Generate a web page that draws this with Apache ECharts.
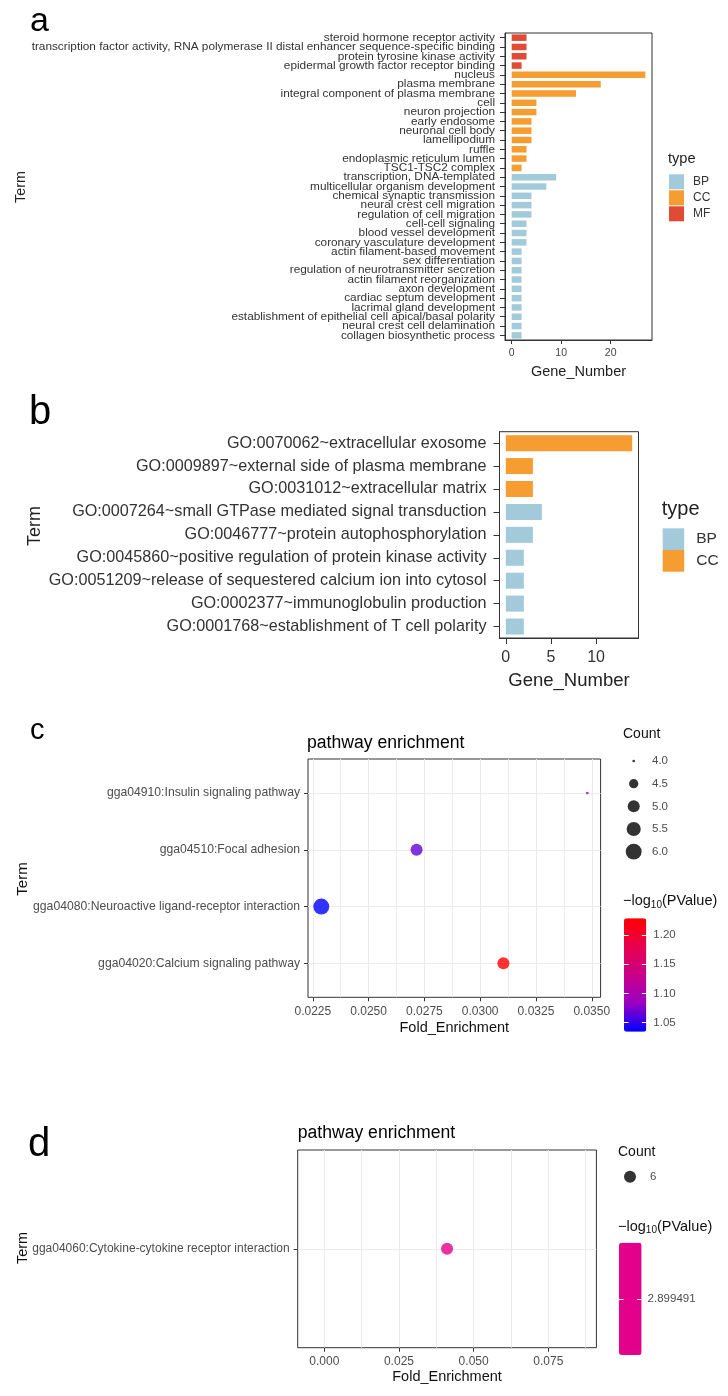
<!DOCTYPE html>
<html><head><meta charset="utf-8">
<script src="https://cdn.jsdelivr.net/npm/echarts@6/dist/echarts.min.js"></script>
<style>html,body{margin:0;padding:0;background:#fff}#chart{width:728px;height:1396px}</style>
</head><body><div id="chart"></div>
<script>
// ---------- Panel a ----------
const termsA = [
  'steroid hormone receptor activity',
  'transcription factor activity, RNA polymerase II distal enhancer sequence-specific binding',
  'protein tyrosine kinase activity',
  'epidermal growth factor receptor binding',
  'nucleus','plasma membrane','integral component of plasma membrane','cell','neuron projection',
  'early endosome','neuronal cell body','lamellipodium','ruffle','endoplasmic reticulum lumen','TSC1-TSC2 complex',
  'transcription, DNA-templated','multicellular organism development','chemical synaptic transmission',
  'neural crest cell migration','regulation of cell migration','cell-cell signaling','blood vessel development',
  'coronary vasculature development','actin filament-based movement','sex differentiation',
  'regulation of neurotransmitter secretion','actin filament reorganization','axon development',
  'cardiac septum development','lacrimal gland development',
  'establishment of epithelial cell apical/basal polarity','neural crest cell delamination','collagen biosynthetic process'
];
const typesA = ['MF','MF','MF','MF',
  'CC','CC','CC','CC','CC','CC','CC','CC','CC','CC','CC',
  'BP','BP','BP','BP','BP','BP','BP','BP','BP','BP','BP','BP','BP','BP','BP','BP','BP','BP'];
const countsA = [3,3,3,2, 27,18,13,5,5,4,4,4,3,3,2, 9,7,4,4,4,3,3,3,2,2,2,2,2,2,2,2,2,2];
const ticksA = [0,10,20];
const typeLevelsA = ['BP','CC','MF'];

// ---------- Panel b ----------
const termsB = [
  'GO:0070062~extracellular exosome',
  'GO:0009897~external side of plasma membrane',
  'GO:0031012~extracellular matrix',
  'GO:0007264~small GTPase mediated signal transduction',
  'GO:0046777~protein autophosphorylation',
  'GO:0045860~positive regulation of protein kinase activity',
  'GO:0051209~release of sequestered calcium ion into cytosol',
  'GO:0002377~immunoglobulin production',
  'GO:0001768~establishment of T cell polarity'
];
const typesB = ['CC','CC','CC','BP','BP','BP','BP','BP','BP'];
const countsB = [14,3,3,4,3,2,2,2,2];
const ticksB = [0,5,10];
const typeLevelsB = ['BP','CC'];

// ---------- Panel c ----------
const termsC = [
  'gga04910:Insulin signaling pathway',
  'gga04510:Focal adhesion',
  'gga04080:Neuroactive ligand-receptor interaction',
  'gga04020:Calcium signaling pathway'
];
const foldC = [0.0348, 0.02715, 0.02288, 0.03104];
const countC = [4, 5, 6, 5];
const logpC = [1.072, 1.066, 1.0346, 1.2286];
const majorTicksC = [0.0225, 0.0250, 0.0275, 0.0300, 0.0325, 0.0350];
const minorTicksC = [0.02375, 0.02625, 0.02875, 0.03125, 0.03375];
const countLevelsC = [4.0, 4.5, 5.0, 5.5, 6.0];
const cbTicksC = [1.05, 1.10, 1.15, 1.20];

// ---------- Panel d ----------
const termsD = ['gga04060:Cytokine-cytokine receptor interaction'];
const foldD = [0.0411];
const countD = [6];
const logpD = [2.899491];
const majorTicksD = [0.000, 0.025, 0.050, 0.075];
const minorTicksD = [0.0125, 0.0375, 0.0625, 0.0875];
const countLevelsD = [6];
const cbTicksD = [2.899491];

// ---------- styling ----------
const FONT = '"Liberation Sans", Arial, Helvetica, sans-serif';
const TYPE_COLORS = {BP:'#A3CADB', CC:'#F59D31', MF:'#E14B35'};
const GRAD = ['#0000FF','#9A00C3','#CA0089','#E8004F','#FF0000'];
const DARK = '#333333';
const GREY = '#4D4D4D';
const GRIDLINE = '#EBEBEB';

function sizeScale(levels, k) {
  const lo = Math.min.apply(null, levels), hi = Math.max.apply(null, levels);
  return function (c) {
    const t = hi === lo ? 0.5 : (c - lo) / (hi - lo);
    return k * (1 + 5 * Math.sqrt(t));
  };
}
const sizeC = sizeScale(countC, 2.65);
const sizeD = sizeScale(countD, 2.65);

function expand(arr, f) {
  const lo = Math.min.apply(null, arr), hi = Math.max.apply(null, arr);
  const pad = (hi - lo) * f;
  return [lo - pad, hi + pad];
}
const maxA = Math.max.apply(null, countsA);
const maxB = Math.max.apply(null, countsB);
const xRangeC = expand(foldC, 0.05);
const xRangeD = [foldD[0] - 0.05, foldD[0] + 0.05];
const cbRangeC = [Math.min.apply(null, logpC), Math.max.apply(null, logpC)];
const cbRangeD = [logpD[0] - 0.1, logpD[0] + 0.1];

const chart = echarts.init(document.getElementById('chart'), null, {renderer: 'canvas'});

function barSeries(types, counts, levels, xi, yi, stack) {
  return levels.map(t => ({
    type: 'bar', name: t, xAxisIndex: xi, yAxisIndex: yi, stack: stack,
    barCategoryGap: '30%',
    data: counts.map((v, i) => types[i] === t ? v : '-'),
    itemStyle: {color: TYPE_COLORS[t]},
    silent: true
  }));
}

function hiddenAxis(gridIndex, extra) {
  return Object.assign({gridIndex: gridIndex, show: false}, extra);
}

const option = {
  animation: false,
  textStyle: {fontFamily: FONT},
  grid: [
    {left: 505, top: 33, width: 147, height: 307, show: true, borderColor: DARK, borderWidth: 1, containLabel: false},
    {left: 499.5, top: 431.7, width: 139, height: 206.3, show: true, borderColor: DARK, borderWidth: 1},
    {left: 308, top: 759, width: 292.6, height: 238.3, show: true, borderColor: DARK, borderWidth: 1},
    {left: 297.7, top: 1150, width: 298.7, height: 197.7, show: true, borderColor: DARK, borderWidth: 1},
    {left: 624, top: 749.7, width: 19.4, height: 113.3},
    {left: 624, top: 918.3, width: 22.3, height: 113.4},
    {left: 620.3, top: 1165.3, width: 19.4, height: 22.7},
    {left: 619, top: 1242.7, width: 22.6, height: 112.3}
  ],
  xAxis: [
    { // 0 panel a
      gridIndex: 0, type: 'value', min: -0.05 * maxA, max: 1.05 * maxA,
      axisLine: {show: true, onZero: false, lineStyle: {color: DARK}},
      axisTick: {show: true, length: 4, customValues: ticksA, lineStyle: {color: DARK}},
      axisLabel: {customValues: ticksA, fontSize: 10.5, color: '#444', margin: 8, fontFamily: FONT},
      splitLine: {show: false},
      name: 'Gene_Number', nameLocation: 'middle', nameGap: 24,
      nameTextStyle: {fontSize: 14.5, color: '#222', fontFamily: FONT}
    },
    { // 1 panel b
      gridIndex: 1, type: 'value', min: -0.05 * maxB, max: 1.05 * maxB,
      axisLine: {show: true, onZero: false, lineStyle: {color: DARK}},
      axisTick: {show: true, length: 6, customValues: ticksB, lineStyle: {color: DARK}},
      axisLabel: {customValues: ticksB, fontSize: 16, color: '#333', margin: 12, fontFamily: FONT},
      splitLine: {show: false},
      name: 'Gene_Number', nameLocation: 'middle', nameGap: 33,
      nameTextStyle: {fontSize: 18.5, color: '#222', fontFamily: FONT}
    },
    { // 2 panel c main
      gridIndex: 2, type: 'value', min: xRangeC[0], max: xRangeC[1],
      axisLine: {show: false, onZero: false},
      axisTick: {show: false, customValues: majorTicksC.concat(minorTicksC)},
      axisLabel: {customValues: majorTicksC, formatter: v => v.toFixed(4), fontSize: 12, color: GREY, margin: 8, fontFamily: FONT},
      splitLine: {show: true, lineStyle: {color: GRIDLINE, width: 1}},
      name: 'Fold_Enrichment', nameLocation: 'middle', nameGap: 23,
      nameTextStyle: {fontSize: 14.5, color: '#111', fontFamily: FONT}
    },
    { // 3 panel c tick marks
      gridIndex: 2, type: 'value', position: 'bottom', min: xRangeC[0], max: xRangeC[1],
      axisLine: {show: false, onZero: false},
      axisTick: {show: true, length: 4, customValues: majorTicksC, lineStyle: {color: DARK}},
      axisLabel: {show: false}, splitLine: {show: false}
    },
    { // 4 panel d main
      gridIndex: 3, type: 'value', min: xRangeD[0], max: xRangeD[1],
      axisLine: {show: false, onZero: false},
      axisTick: {show: false, customValues: majorTicksD.concat(minorTicksD)},
      axisLabel: {customValues: majorTicksD, formatter: v => v.toFixed(3), fontSize: 12, color: GREY, margin: 8, fontFamily: FONT},
      splitLine: {show: true, lineStyle: {color: GRIDLINE, width: 1}},
      name: 'Fold_Enrichment', nameLocation: 'middle', nameGap: 22,
      nameTextStyle: {fontSize: 14.5, color: '#111', fontFamily: FONT}
    },
    { // 5 panel d tick marks
      gridIndex: 3, type: 'value', position: 'bottom', min: xRangeD[0], max: xRangeD[1],
      axisLine: {show: false, onZero: false},
      axisTick: {show: true, length: 4, customValues: majorTicksD, lineStyle: {color: DARK}},
      axisLabel: {show: false}, splitLine: {show: false}
    },
    hiddenAxis(4, {type: 'category', data: ['']}),      // 6 c count legend
    hiddenAxis(5, {type: 'value', min: 0, max: 1}),     // 7 c colorbar
    hiddenAxis(6, {type: 'category', data: ['']}),      // 8 d count legend
    hiddenAxis(7, {type: 'value', min: 0, max: 1})      // 9 d colorbar
  ],
  yAxis: [
    { // 0 panel a
      gridIndex: 0, type: 'category', data: termsA, inverse: true,
      axisLine: {show: true, onZero: false, lineStyle: {color: DARK}},
      axisTick: {show: true, alignWithLabel: true, length: 5, lineStyle: {color: DARK}},
      axisLabel: {interval: 0, fontSize: 11.8, color: '#333', margin: 10, fontFamily: FONT},
      splitLine: {show: false}
    },
    { // 1 panel b
      gridIndex: 1, type: 'category', data: termsB, inverse: true,
      axisLine: {show: true, onZero: false, lineStyle: {color: DARK}},
      axisTick: {show: true, alignWithLabel: true, length: 6, lineStyle: {color: DARK}},
      axisLabel: {interval: 0, fontSize: 16.2, color: '#333', margin: 13, fontFamily: FONT},
      splitLine: {show: false}
    },
    { // 2 panel c
      gridIndex: 2, type: 'value', inverse: true, min: -0.6, max: termsC.length - 1 + 0.6,
      axisLine: {show: false, onZero: false},
      axisTick: {show: true, length: 4, customValues: termsC.map((t, i) => i), lineStyle: {color: DARK}},
      axisLabel: {customValues: termsC.map((t, i) => i), formatter: v => termsC[Math.round(v)], fontSize: 12.2, color: GREY, margin: 8, fontFamily: FONT},
      splitLine: {show: true, lineStyle: {color: GRIDLINE, width: 1}}
    },
    { // 3 panel d
      gridIndex: 3, type: 'value', inverse: true, min: -0.6, max: termsD.length - 1 + 0.6,
      axisLine: {show: false, onZero: false},
      axisTick: {show: true, length: 4, customValues: termsD.map((t, i) => i), lineStyle: {color: DARK}},
      axisLabel: {customValues: termsD.map((t, i) => i), formatter: v => termsD[Math.round(v)], fontSize: 12, color: GREY, margin: 8, fontFamily: FONT},
      splitLine: {show: true, lineStyle: {color: GRIDLINE, width: 1}}
    },
    { // 4 c count legend
      gridIndex: 4, type: 'category', data: countLevelsC.map(v => v.toFixed(1)), inverse: true, position: 'right',
      axisLine: {show: false, onZero: false}, axisTick: {show: false},
      axisLabel: {fontSize: 11.5, color: GREY, margin: 8.6, fontFamily: FONT}, splitLine: {show: false}
    },
    { // 5 c colorbar right
      gridIndex: 5, type: 'value', position: 'right', min: cbRangeC[0], max: cbRangeC[1], z: 10,
      axisLine: {show: false, onZero: false},
      axisTick: {show: true, inside: true, length: 4.5, customValues: cbTicksC, lineStyle: {color: '#fff', width: 1}},
      axisLabel: {customValues: cbTicksC, formatter: v => v.toFixed(2), fontSize: 11.5, color: GREY, margin: 7, fontFamily: FONT},
      splitLine: {show: false}
    },
    { // 6 c colorbar left
      gridIndex: 5, type: 'value', position: 'left', min: cbRangeC[0], max: cbRangeC[1], z: 10,
      axisLine: {show: false, onZero: false},
      axisTick: {show: true, inside: true, length: 4.5, customValues: cbTicksC, lineStyle: {color: '#fff', width: 1}},
      axisLabel: {show: false}, splitLine: {show: false}
    },
    { // 7 d count legend
      gridIndex: 6, type: 'category', data: countLevelsD.map(v => String(v)), inverse: true, position: 'right',
      axisLine: {show: false, onZero: false}, axisTick: {show: false},
      axisLabel: {fontSize: 11.5, color: GREY, margin: 10.3, fontFamily: FONT}, splitLine: {show: false}
    },
    { // 8 d colorbar right
      gridIndex: 7, type: 'value', position: 'right', min: cbRangeD[0], max: cbRangeD[1], z: 10,
      axisLine: {show: false, onZero: false},
      axisTick: {show: true, inside: true, length: 4.5, customValues: cbTicksD, lineStyle: {color: '#fff', width: 1}},
      axisLabel: {customValues: cbTicksD, formatter: v => v.toFixed(6), fontSize: 11.5, color: GREY, margin: 6, fontFamily: FONT},
      splitLine: {show: false}
    },
    { // 9 d colorbar left
      gridIndex: 7, type: 'value', position: 'left', min: cbRangeD[0], max: cbRangeD[1], z: 10,
      axisLine: {show: false, onZero: false},
      axisTick: {show: true, inside: true, length: 4.5, customValues: cbTicksD, lineStyle: {color: '#fff', width: 1}},
      axisLabel: {show: false}, splitLine: {show: false}
    }
  ],
  legend: [
    {
      data: typeLevelsA, orient: 'vertical', left: 669, top: 174.3, padding: 0,
      itemWidth: 15, itemHeight: 15, itemGap: 1, icon: 'rect', selectedMode: false,
      textStyle: {fontSize: 12, color: '#333', fontFamily: FONT, padding: [0, 0, 0, 4]}
    },
    {
      data: typeLevelsB, orient: 'vertical', left: 662.7, top: 528.3, padding: 0,
      itemWidth: 21.5, itemHeight: 21.7, itemGap: 0, icon: 'rect', selectedMode: false,
      textStyle: {fontSize: 15.5, color: '#333', fontFamily: FONT, padding: [0, 0, 0, 7]}
    }
  ],
  visualMap: [
    {
      type: 'continuous', seriesIndex: 5, dimension: 2, min: cbRangeC[0], max: cbRangeC[1],
      inRange: {color: GRAD}, calculable: false, hoverLink: false, orient: 'vertical',
      itemWidth: 22.3, itemHeight: 113.4, left: 624, top: 918.3, padding: 0, text: null
    },
    {
      type: 'continuous', seriesIndex: 6, dimension: 2, min: cbRangeD[0], max: cbRangeD[1],
      inRange: {color: ['#E3008B', '#E3008B']}, calculable: false, hoverLink: false, orient: 'vertical',
      itemWidth: 22.6, itemHeight: 112.3, left: 619, top: 1242.7, padding: 0, text: null
    }
  ],
  series: [].concat(
    barSeries(typesA, countsA, typeLevelsA, 0, 0, 'a'),
    barSeries(typesB, countsB, typeLevelsB, 1, 1, 'b'),
    [
      { // 5 panel c points
        type: 'scatter', xAxisIndex: 2, yAxisIndex: 2, silent: true, z: 5,
        data: termsC.map((t, i) => [foldC[i], i, logpC[i], countC[i]]),
        symbolSize: v => sizeC(v[3])
      },
      { // 6 panel d points
        type: 'scatter', xAxisIndex: 4, yAxisIndex: 3, silent: true, z: 5,
        data: termsD.map((t, i) => [foldD[i], i, logpD[i], countD[i]]),
        symbolSize: v => sizeD(v[3])
      },
      { // 7 c count legend
        type: 'scatter', xAxisIndex: 6, yAxisIndex: 4, silent: true,
        data: countLevelsC.map(v => [0, v.toFixed(1), v]),
        symbolSize: v => sizeC(v[2]), itemStyle: {color: '#000'}
      },
      { // 8 d count legend
        type: 'scatter', xAxisIndex: 8, yAxisIndex: 7, silent: true,
        data: countLevelsD.map(v => [0, String(v), v]),
        symbolSize: v => sizeD(v[2]), itemStyle: {color: '#000'}
      }
    ]
  ),
  graphic: [
    // panel letters
    {type: 'text', x: 30, y: 22, style: {text: 'a', fontSize: 34, fontFamily: FONT, fill: '#000', align: 'left', verticalAlign: 'middle'}},
    {type: 'text', x: 29, y: 413, style: {text: 'b', fontSize: 40, fontFamily: FONT, fill: '#000', align: 'left', verticalAlign: 'middle'}},
    {type: 'text', x: 30, y: 731, style: {text: 'c', fontSize: 29, fontFamily: FONT, fill: '#000', align: 'left', verticalAlign: 'middle'}},
    {type: 'text', x: 28, y: 1145, style: {text: 'd', fontSize: 40, fontFamily: FONT, fill: '#000', align: 'left', verticalAlign: 'middle'}},
    // Term titles
    {type: 'text', x: 21.5, y: 187, rotation: Math.PI / 2, style: {text: 'Term', fontSize: 14.3, fontFamily: FONT, fill: '#222', align: 'center', verticalAlign: 'middle'}},
    {type: 'text', x: 35, y: 526, rotation: Math.PI / 2, style: {text: 'Term', fontSize: 18, fontFamily: FONT, fill: '#222', align: 'center', verticalAlign: 'middle'}},
    {type: 'text', x: 23, y: 879, rotation: Math.PI / 2, style: {text: 'Term', fontSize: 15, fontFamily: FONT, fill: '#111', align: 'center', verticalAlign: 'middle'}},
    {type: 'text', x: 23, y: 1248, rotation: Math.PI / 2, style: {text: 'Term', fontSize: 14.5, fontFamily: FONT, fill: '#111', align: 'center', verticalAlign: 'middle'}},
    // legend titles for bars
    {type: 'text', x: 668, y: 159, style: {text: 'type', fontSize: 14.6, fontFamily: FONT, fill: '#222', align: 'left', verticalAlign: 'middle'}},
    {type: 'text', x: 661.7, y: 509, style: {text: 'type', fontSize: 20, fontFamily: FONT, fill: '#222', align: 'left', verticalAlign: 'middle'}},
    // scatter panel titles
    {type: 'text', x: 307, y: 743, style: {text: 'pathway enrichment', fontSize: 17.6, fontFamily: FONT, fill: '#000', align: 'left', verticalAlign: 'middle'}},
    {type: 'text', x: 297.7, y: 1133, style: {text: 'pathway enrichment', fontSize: 17.6, fontFamily: FONT, fill: '#000', align: 'left', verticalAlign: 'middle'}},
    // legend titles for scatter
    {type: 'text', x: 623, y: 734, style: {text: 'Count', fontSize: 14, fontFamily: FONT, fill: '#111', align: 'left', verticalAlign: 'middle'}},
    {type: 'text', x: 623, y: 901, style: {text: '{a|\u2212log}{b|10}{a|(PValue)}', fontFamily: FONT, fill: '#111', align: 'left', verticalAlign: 'middle',
      rich: {a: {fontSize: 14.5, lineHeight: 18, fontFamily: FONT, fill: '#111'}, b: {fontSize: 10, lineHeight: 10, verticalAlign: 'bottom', fontFamily: FONT, fill: '#111'}}}},
    {type: 'text', x: 618, y: 1151.7, style: {text: 'Count', fontSize: 14, fontFamily: FONT, fill: '#111', align: 'left', verticalAlign: 'middle'}},
    {type: 'text', x: 618, y: 1226.7, style: {text: '{a|\u2212log}{b|10}{a|(PValue)}', fontFamily: FONT, fill: '#111', align: 'left', verticalAlign: 'middle',
      rich: {a: {fontSize: 14.5, lineHeight: 18, fontFamily: FONT, fill: '#111'}, b: {fontSize: 10, lineHeight: 10, verticalAlign: 'bottom', fontFamily: FONT, fill: '#111'}}}}
  ]
};
chart.setOption(option);
</script>
</body></html>
